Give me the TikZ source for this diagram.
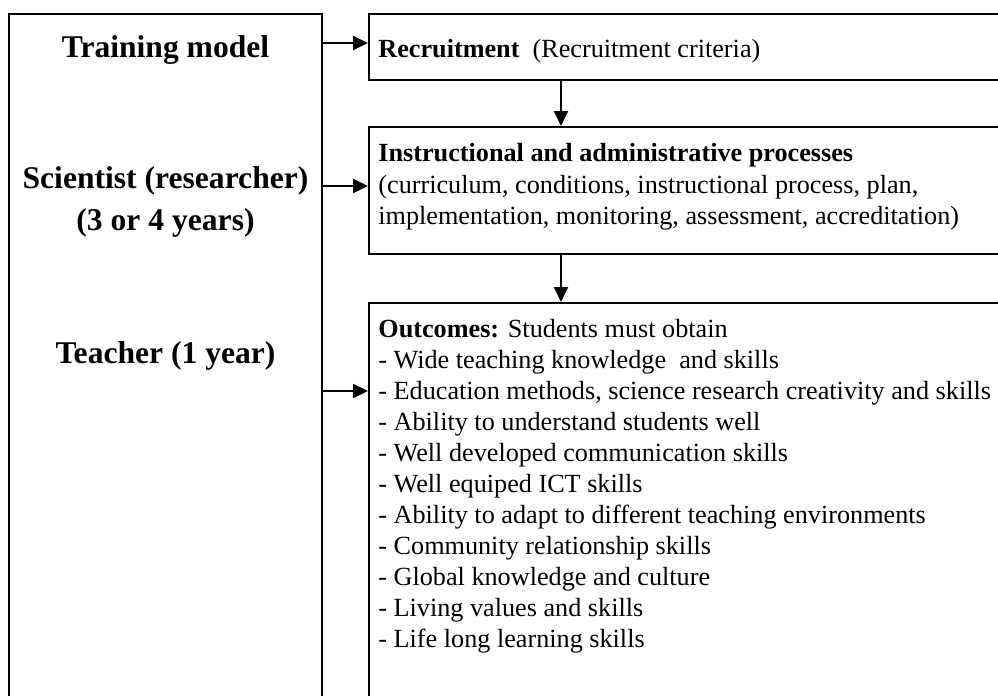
\documentclass[tikz,border=0pt]{standalone}
\usepackage{fontspec}
\setmainfont{Liberation Serif}
\usetikzlibrary{fit,arrows.meta}
\begin{document}
\begin{tikzpicture}[x=0.5pt,y=-0.5pt,
  box/.style={draw, line width=1pt, inner sep=0pt},
  arr/.style={line width=1pt, -{Triangle[length=7.5pt,width=7pt]}},
  lbl/.style={font=\fontsize{15.8}{20}\selectfont\bfseries, anchor=base, inner sep=0pt},
  txt/.style={font=\fontsize{13.1}{15.5}\selectfont, anchor=base west, inner sep=0pt}]
\useasboundingbox (0,0) rectangle (998,696);
\clip (0,0) rectangle (998,696);
% boxes
\node[box, fit={(9,14) (322,730)}] (L) {};
\node[box, fit={(369,14) (1010,80)}] (R1) {};
\node[box, fit={(369,127) (1010,254)}] (R2) {};
\node[box, fit={(369,303) (1010,730)}] (R3) {};
% left labels
\node[lbl] (t1) at (165.5,57) {Training model};
\node[lbl] (t2) at (165.5,188) {Scientist (researcher)};
\node[lbl] (t3) at (165.5,230) {(3 or 4 years)};
\node[lbl] (t4) at (165.5,363) {Teacher (1 year)};
% box texts
\node[txt] (r1) at (378,57) {\textbf{Recruitment}~ (Recruitment criteria)};
\node[txt] (i1) at (378,162) {\textbf{Instructional and administrative processes}};
\node[txt] (i2) at (378,193) {(curriculum, conditions, instructional process, plan,};
\node[txt] (i3) at (378,224) {implementation, monitoring, assessment, accreditation)};
\foreach \t [count=\i] in {
  {\textbf{Outcomes:} Students must obtain},
  {- Wide teaching knowledge~ and skills},
  {- Education methods, science research creativity and skills},
  {- Ability to understand students well},
  {- Well developed communication skills},
  {- Well equiped ICT skills},
  {- Ability to adapt to different teaching environments},
  {- Community relationship skills},
  {- Global knowledge and culture},
  {- Living values and skills},
  {- Life long learning skills}}
  \node[txt] (o\i) at (378,{337+31*(\i-1)}) {\t};
% connectors
\coordinate (h1) at (0,43);
\coordinate (h2) at (0,186);
\coordinate (h3) at (0,391);
\coordinate (v) at (561,0);
\draw[arr] (L.east |- h1) -- (R1.west |- h1);
\draw[arr] (L.east |- h2) -- (R2.west |- h2);
\draw[arr] (L.east |- h3) -- (R3.west |- h3);
\draw[arr] (R1.south -| v) -- (R2.north -| v);
\draw[arr] (R2.south -| v) -- (R3.north -| v);
\end{tikzpicture}
\end{document}
